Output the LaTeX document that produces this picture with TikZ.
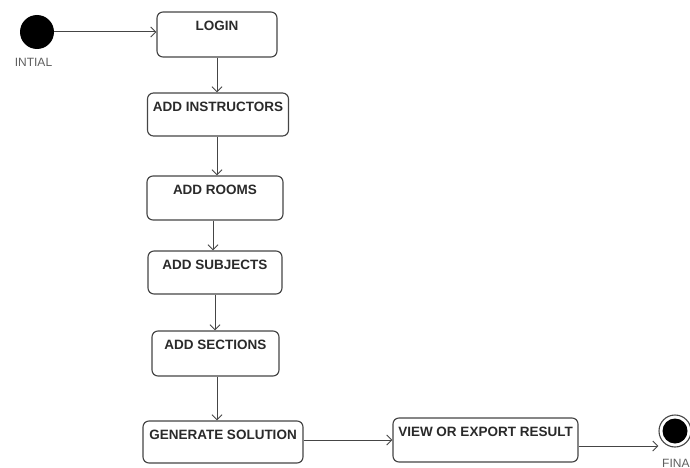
\documentclass[tikz,border=0pt]{standalone}
\usepackage{fontspec}
\setmainfont{Liberation Sans}
\usetikzlibrary{arrows.meta}
\definecolor{txt}{HTML}{2A2A2A}
\definecolor{edge}{HTML}{454545}
\definecolor{lbl}{HTML}{5E5E5E}
\tikzset{
  statebox/.style={draw=edge, line width=1.15pt, rounded corners=6pt, fill=white,
    font=\fontsize{13.5}{15}\selectfont\bfseries, text=txt,
    inner xsep=3pt, inner ysep=8.5pt, text height=9.67pt, anchor=center},
  arr/.style={draw=edge, line width=1pt, -{Straight Barb[length=5pt,width=10pt,line width=1pt]}},
  pseudolbl/.style={font=\fontsize{12}{14}\selectfont, text=lbl, inner sep=0pt}
}
\begin{document}
\begin{tikzpicture}[x=1pt,y=-1pt]
\useasboundingbox (0,0) rectangle (690,468);
% initial state
\node[circle, fill=black, minimum size=34pt, inner sep=0pt] (init) at (37,32) {};
\node[pseudolbl] (initlbl) at (33.5,62) {INTIAL};
% states
\node[statebox, minimum width=120pt, text depth=18.33pt] (login) at (217,34.5) {LOGIN};
\node[statebox, minimum width=141pt, text depth=16.33pt] (instr) at (218,114.5) {ADD INSTRUCTORS};
\node[statebox, minimum width=136pt, text depth=17.33pt] (rooms) at (215,198) {ADD ROOMS};
\node[statebox, minimum width=134pt, text depth=16.33pt] (subj) at (215,272.5) {ADD SUBJECTS};
\node[statebox, minimum width=127pt, text depth=18.33pt] (sect) at (215.5,353.5) {ADD SECTIONS};
\node[statebox, minimum width=160pt, text depth=15.33pt] (gen) at (223,442) {GENERATE SOLUTION};
\node[statebox, minimum width=185pt, text depth=17.33pt] (view) at (485.5,440) {VIEW OR EXPORT RESULT};
% final state
\node[circle, draw=edge, line width=1.1pt, fill=white, minimum size=32pt, inner sep=0pt] (final) at (675,431) {};
\node[circle, fill=black, minimum size=25pt, inner sep=0pt] (finalin) at (final.center) {};
\node[pseudolbl, anchor=west] (finallbl) at (662,463) {FINAL};
% transitions
\draw[arr] (init) -- (init -| login.west);
\draw[arr] (login) -- (login |- instr.north);
\draw[arr] ([xshift=-1pt]instr.south) -- ([xshift=2pt]rooms.north);
\draw[arr] ([xshift=-2pt]rooms.south) -- ([xshift=-2pt]subj.north);
\draw[arr] (subj) -- (subj |- sect.north);
\draw[arr] ([xshift=1.5pt]sect.south) -- ([xshift=-6pt]gen.north);
\draw[arr] (gen.east |- view) -- (view.west);
\draw[arr] ([yshift=-6pt]view.east) -- ([yshift=-6pt]view.east -| final.west);
\end{tikzpicture}
\end{document}
